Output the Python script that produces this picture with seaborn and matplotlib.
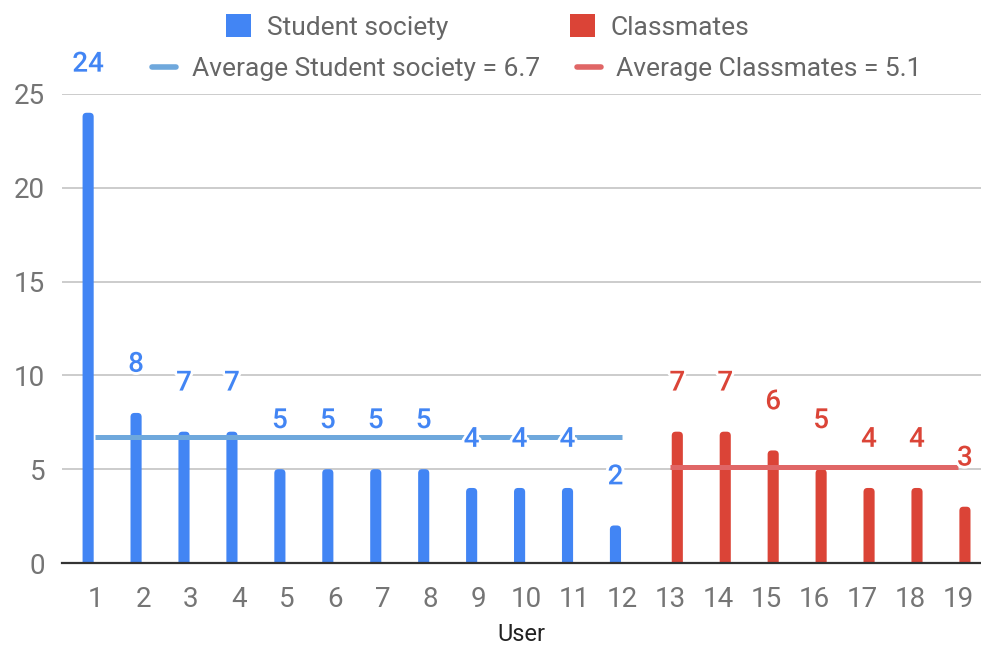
import matplotlib
matplotlib.use("Agg")
import matplotlib.pyplot as plt
import matplotlib.patheffects as pe
from matplotlib.patches import FancyBboxPatch
from matplotlib.lines import Line2D
from matplotlib.patches import Patch
import pandas as pd
import seaborn as sns

# ---- data ----
users = [str(i) for i in range(1, 20)]
society_users = users[:12]
society_counts = [24, 8, 7, 7, 5, 5, 5, 5, 4, 4, 4, 2]
classmate_users = users[12:]
classmate_counts = [7, 7, 6, 5, 4, 4, 3]
society_avg = 6.7
classmate_avg = 5.1
groups = ["Student society", "Classmates"]

BLUE = "#4285f4"
RED = "#db4437"
BLUE_AVG = "#6fa8dc"
RED_AVG = "#e06666"
TICK_GRAY = "#757575"

sns.set_theme(style="white")
plt.rcParams["font.family"] = ["Roboto", "DejaVu Sans"]

df = pd.DataFrame({
    "User": society_users + classmate_users,
    "Count": society_counts + classmate_counts,
    "Group": [groups[0]] * len(society_users) + [groups[1]] * len(classmate_users),
})

fig = plt.figure(figsize=(9.81, 6.45), dpi=100)
ax = fig.add_axes([62 / 981, 1 - 563 / 645, 1 - 62 / 981, (563 - 94) / 645])

sns.barplot(data=df, x="User", y="Count", hue="Group", order=users, hue_order=groups,
            palette={groups[0]: BLUE, groups[1]: RED},
            saturation=1, dodge=True, width=0.58, gap=0.2, legend=False, ax=ax, zorder=3)

ax.set_xlim(-0.69, 18.48)
ax.set_ylim(0, 25)

# swap plain rectangles for bars with rounded tops, and label each bar
px_per_x = (958 - 95) / 18
px_per_y = (563 - 94) / 25
r_px = 4.0
r_x = r_px / px_per_x
aspect = (r_px / px_per_y) / r_x
outline = [pe.withStroke(linewidth=4, foreground="white")]
for bar in list(ax.patches):
    h = bar.get_height()
    if not h or h != h:
        continue
    x0 = bar.get_x()
    w = bar.get_width()
    fc = bar.get_facecolor()
    bar.remove()
    ext = r_px / px_per_y
    rb = FancyBboxPatch((x0, -ext), w, h + ext,
                        boxstyle=f"round,pad=0,rounding_size={r_x}",
                        mutation_aspect=aspect, facecolor=fc,
                        edgecolor="none", zorder=3)
    ax.add_patch(rb)
    ax.annotate(f"{h:g}", (x0 + w / 2, h), xytext=(0, 35), textcoords="offset points",
                ha="center", va="center", fontsize=20, fontweight="medium",
                color=fc, path_effects=outline, clip_on=False, zorder=6)

# average lines across each group's users
xpos = {u: i for i, u in enumerate(users)}
ax.plot([xpos[society_users[0]], xpos[society_users[-1]]], [society_avg] * 2,
        color=BLUE_AVG, lw=3.6, zorder=4, solid_capstyle="butt")
ax.plot([xpos[classmate_users[0]], xpos[classmate_users[-1]]], [classmate_avg] * 2,
        color=RED_AVG, lw=3.6, zorder=4, solid_capstyle="butt")

# axes styling
ax.set_yticks([0, 5, 10, 15, 20, 25])
ax.grid(axis="y", color="#cccccc", lw=1.4, zorder=0)
ax.grid(axis="x", visible=False)
ax.set_axisbelow(True)
for s in ("top", "right", "left"):
    ax.spines[s].set_visible(False)
ax.spines["bottom"].set_color("#333333")
ax.spines["bottom"].set_linewidth(1.6)
ax.spines["bottom"].set_zorder(5)
ax.tick_params(axis="y", length=0, pad=12, labelsize=20, labelcolor=TICK_GRAY)
ax.tick_params(axis="x", length=0, pad=16.5, labelsize=20, labelcolor=TICK_GRAY)
ax.set_ylabel("")
ax.set_xlabel("User", fontsize=17, color="#222222", labelpad=7)

# legends: bar groups on the first row, averages on the second
row1 = [Patch(facecolor=BLUE, edgecolor="none"), Patch(facecolor=RED, edgecolor="none")]
leg1 = fig.legend(row1, groups, ncol=2,
                  loc="center", bbox_to_anchor=(488 / 981, 1 - 27 / 645),
                  frameon=False, fontsize=19, labelcolor="#666666",
                  handlelength=0.95, handleheight=0.95, handletextpad=0.6,
                  columnspacing=4.6, borderaxespad=0, borderpad=0)
row2 = [Line2D([], [], color=BLUE_AVG, lw=4), Line2D([], [], color=RED_AVG, lw=4)]
leg2 = fig.legend(row2, [f"Average {groups[0]} = {society_avg}",
                         f"Average {groups[1]} = {classmate_avg}"], ncol=2,
                  loc="center", bbox_to_anchor=(537 / 981, 1 - 69 / 645),
                  frameon=False, fontsize=19, labelcolor="#666666",
                  handlelength=0.9, handletextpad=0.6,
                  columnspacing=1.4, borderaxespad=0, borderpad=0)

fig.savefig("out.png", dpi=100)
